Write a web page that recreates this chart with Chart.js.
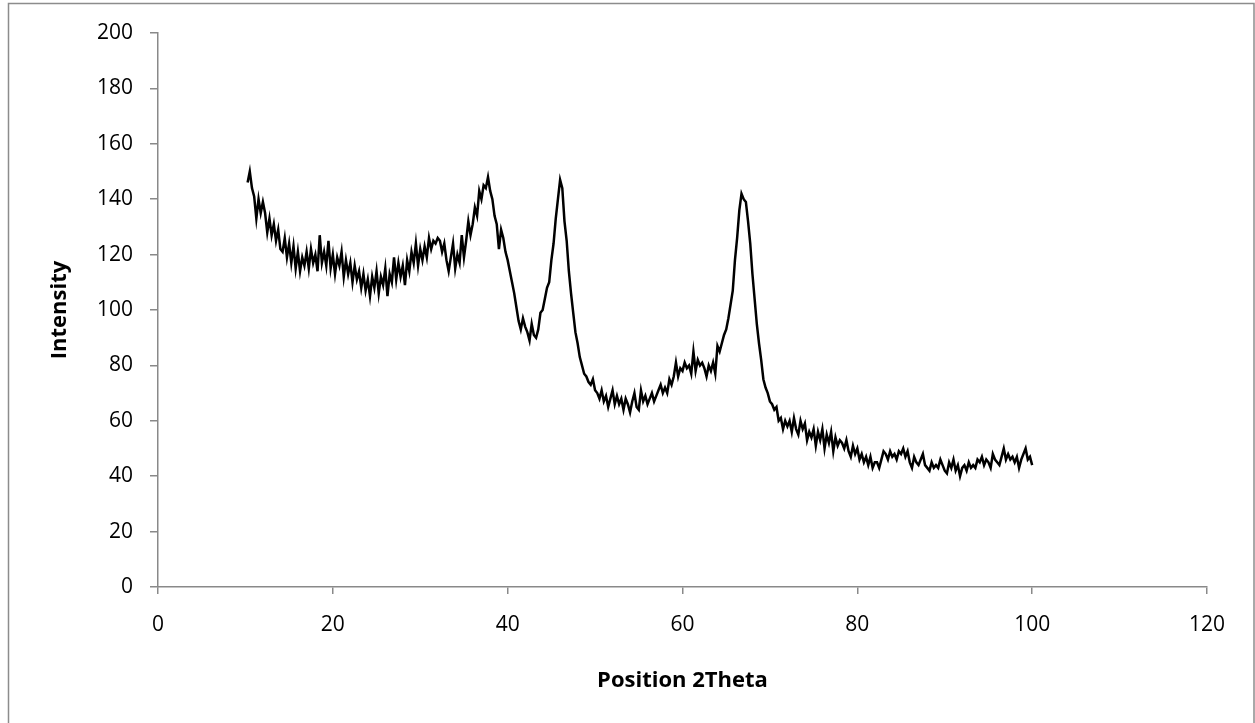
<!DOCTYPE html>
<html>
<head>
<meta charset="utf-8">
<title>XRD pattern</title>
<script src="https://cdn.jsdelivr.net/npm/chart.js@4.4.1/dist/chart.umd.min.js"></script>
<style>
  html, body { margin: 0; padding: 0; background: #fff; }
  canvas { display: block; }
</style>
</head>
<body>
<canvas id="xrd" width="1255" height="723"></canvas>
<script>
// scan grid: 2theta from 10.25 to 100 in 0.25 deg steps
const scanStart = 10.25;
const scanStep = 0.25;

// intensity, one row per degree (4 readings each)
const intensity = [
  146, 150, 144, 141,   // 10-11
  133, 140, 135, 139,
  135, 128, 133, 127,
  131, 125, 129, 122,
  121, 126, 119, 124,
  117, 123, 115, 121,   // 15-16
  114, 119, 116, 121,
  115, 122, 117, 120,
  114, 127, 117, 121,
  116, 125, 115, 120,
  113, 119, 116, 121,   // 20-21
  112, 118, 113, 117,
  110, 116, 111, 114,
  108, 113, 107, 111,
  105, 112, 108, 114,
  106, 112, 109, 115,   // 25-26
  105, 113, 110, 119,
  111, 117, 112, 116,
  109, 118, 114, 121,
  117, 124, 116, 122,
  118, 123, 119, 126,   // 30-31
  122, 125, 124, 126,
  125, 121, 124, 118,
  114, 119, 124, 115,
  120, 117, 127, 119,
  125, 132, 127, 131,   // 35-36
  137, 134, 143, 140,
  145, 144, 148, 143,
  140, 134, 131, 122,
  129, 126, 121, 118,
  114, 110, 106, 101,   // 40-41
  96, 93, 97, 94,
  92, 89, 95, 91,
  90, 93, 99, 100,
  104, 108, 110, 118,
  124, 133, 140, 147,   // 45-46
  144, 132, 125, 114,
  106, 99, 92, 88,
  83, 80, 77, 76,
  74, 73, 75, 71,
  70, 68, 71, 67,       // 50-51
  69, 65, 68, 71,
  66, 69, 66, 68,
  64, 68, 66, 63,
  67, 70, 65, 64,
  71, 67, 69, 66,       // 55-56
  68, 70, 67, 69,
  71, 73, 70, 72,
  70, 75, 73, 76,
  81, 76, 79, 78,
  81, 79, 80, 77,       // 60-61
  85, 78, 82, 80,
  81, 79, 76, 80,
  78, 81, 77, 87,
  85, 88, 91, 93,
  97, 102, 107, 118,    // 65-66
  126, 136, 142, 140,
  139, 132, 124, 113,
  104, 95, 88, 82,
  75, 72, 70, 67,
  66, 64, 65, 60,       // 70-71
  61, 57, 60, 58,
  60, 56, 61, 57,
  55, 60, 57, 59,
  53, 56, 54, 57,
  51, 56, 53, 57,       // 75-76
  50, 55, 52, 56,
  49, 54, 51, 53,
  52, 50, 53, 49,
  47, 51, 48, 50,
  46, 48, 45, 47,       // 80-81
  44, 47, 43, 45,
  45, 43, 46, 49,
  48, 46, 49, 47,
  48, 46, 49, 48,
  50, 47, 49, 45,       // 85-86
  43, 47, 45, 44,
  46, 48, 44, 43,
  42, 45, 43, 44,
  43, 46, 44, 42,
  41, 45, 43, 46,       // 90-91
  42, 44, 40, 43,
  44, 42, 45, 43,
  44, 43, 46, 45,
  47, 44, 46, 45,
  43, 48, 46, 45,       // 95-96
  44, 47, 50, 46,
  48, 46, 47, 45,
  47, 43, 46, 48,
  50, 46, 47, 44
];

// axis ticks
const xTicks = [0, 20, 40, 60, 80, 100, 120];
const yTicks = [0, 20, 40, 60, 80, 100, 120, 140, 160, 180, 200];

const axisGray = '#898989';
const fontFamily = "'Open Sans', 'Noto Sans', sans-serif";

const points = intensity.map((v, i) => ({ x: scanStart + i * scanStep, y: v }));

// grey frame around the whole chart, like the spreadsheet chart box
const frame = {
  id: 'frame',
  beforeDraw(chart) {
    const c = chart.ctx;
    c.save();
    c.fillStyle = '#fff';
    c.fillRect(0, 0, chart.width, chart.height);
    c.strokeStyle = '#8c8c8c';
    c.lineWidth = 1.5;
    c.strokeRect(8.5, 3.5, 1245.5, 740);
    c.restore();
  }
};

new Chart(document.getElementById('xrd'), {
  type: 'line',
  data: {
    datasets: [{
      data: points,
      borderColor: '#000',
      borderWidth: 2.5,
      pointRadius: 0,
      tension: 0,
      fill: false
    }]
  },
  options: {
    responsive: false,
    animation: false,
    layout: { padding: { left: 0, top: 33, right: 48, bottom: 0 } },
    plugins: { legend: { display: false }, tooltip: { enabled: false } },
    scales: {
      x: {
        type: 'linear',
        min: 0,
        max: 120,
        afterBuildTicks: (s) => { s.ticks = xTicks.map(v => ({ value: v })); },
        afterFit: (s) => { s.height = 136; },
        ticks: { color: '#000', padding: 18, font: { family: fontFamily, size: 21 } },
        grid: { drawOnChartArea: false, tickLength: 7, color: axisGray, lineWidth: 1.5 },
        border: { color: axisGray, width: 1.5 },
        title: {
          display: true,
          text: 'Position 2Theta',
          color: '#000',
          font: { family: fontFamily, size: 22, weight: 'bold' },
          padding: { top: 0, bottom: 29 }
        }
      },
      y: {
        min: 0,
        max: 200,
        afterBuildTicks: (s) => { s.ticks = yTicks.map(v => ({ value: v })); },
        afterFit: (s) => { s.width = 158; },
        ticks: { color: '#000', padding: 17, font: { family: fontFamily, size: 21 } },
        grid: { drawOnChartArea: false, tickLength: 8, color: axisGray, lineWidth: 1.5 },
        border: { color: axisGray, width: 1.5 },
        title: {
          display: true,
          text: 'Intensity',
          color: '#000',
          font: { family: fontFamily, size: 22, weight: 'bold' },
          padding: { top: 47, bottom: 0 }
        }
      }
    }
  },
  plugins: [frame]
});
</script>
</body>
</html>
